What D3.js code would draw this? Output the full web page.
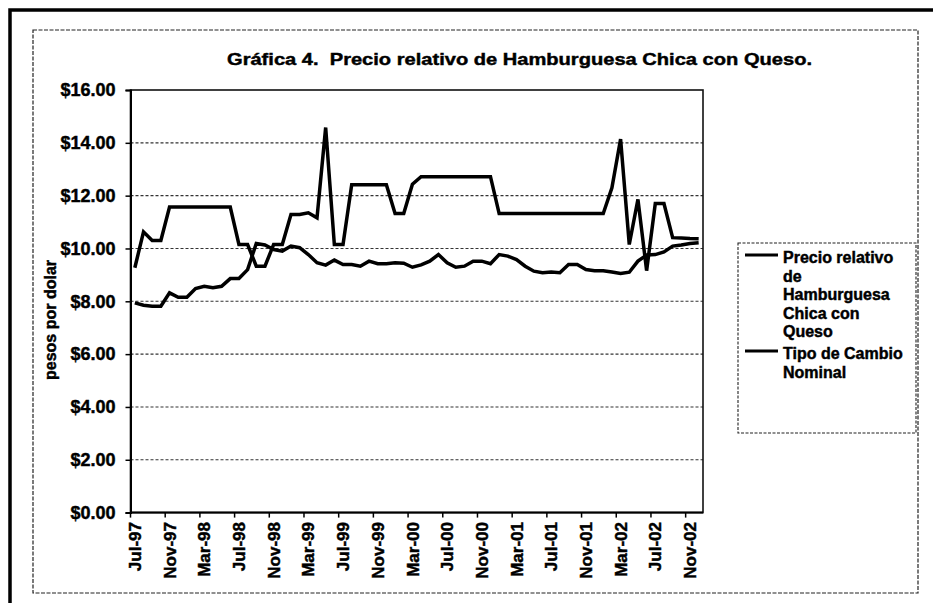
<!DOCTYPE html>
<html>
<head>
<meta charset="utf-8">
<script src="https://cdn.jsdelivr.net/npm/d3@7"></script>
<style>
  body { margin: 0; background: #fff; }
  svg { font-family: "Liberation Sans", Arial, sans-serif; font-weight: bold; }
  svg text { stroke: #000; stroke-width: 0.45px; white-space: pre; }
</style>
</head>
<body>
<svg id="chart" width="933" height="603"></svg>
<script>
// monthly categories, Jul-97 .. Dec-02
const months = d3.timeMonths(new Date(1997, 6, 1), new Date(2003, 0, 1));

const tickLabels = ["Jul-97", "Nov-97", "Mar-98", "Jul-98", "Nov-98", "Mar-99", "Jul-99",
    "Nov-99", "Mar-00", "Jul-00", "Nov-00", "Mar-01", "Jul-01", "Nov-01", "Mar-02",
    "Jul-02", "Nov-02"];

const yTicks = [0, 2, 4, 6, 8, 10, 12, 14, 16];

// Precio relativo de Hamburguesa Chica con Queso
const precioRelativo = [
    9.27, 10.63, 10.30, 10.30, 11.57, 11.57, 11.57, 11.57, 11.57, 11.57, 11.57, 11.57,
    10.15, 10.15, 9.33, 9.33, 10.15, 10.15, 11.29, 11.29, 11.35, 11.16, 14.58, 10.15,
    10.15, 12.41, 12.41, 12.41, 12.41, 12.41, 11.32, 11.32, 12.43, 12.72, 12.72, 12.72,
    12.72, 12.72, 12.72, 12.72, 12.72, 12.72, 11.32, 11.32, 11.32, 11.32, 11.32, 11.32,
    11.32, 11.32, 11.32, 11.32, 11.32, 11.32, 11.32, 12.30, 14.14, 10.15, 11.86, 9.16,
    11.70, 11.70, 10.41, 10.40, 10.38, 10.37
];

// Tipo de Cambio Nominal
const tipoCambio = [
    7.94, 7.85, 7.81, 7.81, 8.32, 8.15, 8.15, 8.48, 8.57, 8.51, 8.57, 8.86,
    8.86, 9.20, 10.19, 10.13, 9.96, 9.90, 10.09, 10.03, 9.77, 9.46, 9.37, 9.56,
    9.39, 9.39, 9.33, 9.52, 9.42, 9.42, 9.46, 9.44, 9.29, 9.38, 9.52, 9.77,
    9.46, 9.29, 9.33, 9.52, 9.52, 9.42, 9.77, 9.71, 9.58, 9.33, 9.14, 9.08,
    9.11, 9.08, 9.39, 9.39, 9.20, 9.16, 9.16, 9.11, 9.05, 9.10, 9.52, 9.75,
    9.77, 9.87, 10.09, 10.13, 10.19, 10.22
];

const legendLines = [
    ["Precio relativo", "de", "Hamburguesa", "Chica con", "Queso"],
    ["Tipo de Cambio", "Nominal"]
];

const svg = d3.select("#chart");

const plot = { left: 130.5, right: 703, top: 90, bottom: 512.6 };

// outer frame and chart area
svg.append("rect")
    .attr("x", 10).attr("y", 10)
    .attr("width", 950).attr("height", 640)
    .attr("fill", "none").attr("stroke", "#000").attr("stroke-width", 3.5);

svg.append("rect")
    .attr("x", 33).attr("y", 30)
    .attr("width", 885).attr("height", 563)
    .attr("fill", "none").attr("stroke", "#222")
    .attr("stroke-width", 1.2).attr("stroke-dasharray", "4,1.5");

const x = d3.scaleBand()
    .domain(months.map((d, i) => i))
    .range([plot.left, plot.right]);

const y = d3.scaleLinear()
    .domain([0, 16])
    .range([plot.bottom, plot.top]);

// gridlines
svg.append("g")
    .selectAll("line")
    .data(yTicks.filter(d => d > 0 && d < 16))
    .join("line")
    .attr("x1", plot.left).attr("x2", plot.right)
    .attr("y1", d => y(d)).attr("y2", d => y(d))
    .attr("stroke", "#333").attr("stroke-width", 1.1)
    .attr("stroke-dasharray", "3,2");

// plot border
svg.append("rect")
    .attr("x", plot.left).attr("y", plot.top)
    .attr("width", plot.right - plot.left).attr("height", plot.bottom - plot.top)
    .attr("fill", "none").attr("stroke", "#111").attr("stroke-width", 1.6);

// y axis
const yAxis = svg.append("g")
    .attr("transform", `translate(${plot.left},0)`)
    .call(d3.axisLeft(y).tickValues(yTicks)
        .tickFormat(d => "$" + d.toFixed(2))
        .tickSize(5).tickPadding(10));
yAxis.select(".domain").attr("stroke", "#000").attr("stroke-width", 2);
yAxis.selectAll(".tick line").attr("stroke", "#000").attr("stroke-width", 1.5);
yAxis.selectAll(".tick text")
    .attr("font-size", 18).attr("font-weight", "bold")
    .attr("font-family", "Liberation Sans, Arial, sans-serif")
    .attr("fill", "#000");

// x axis: labels every 4 months, ticks between categories
const tickIdx = d3.range(0, months.length, 4);

svg.append("line")
    .attr("x1", plot.left).attr("x2", plot.right)
    .attr("y1", plot.bottom).attr("y2", plot.bottom)
    .attr("stroke", "#000").attr("stroke-width", 2);

svg.append("g")
    .selectAll("line")
    .data(tickIdx)
    .join("line")
    .attr("x1", d => x(d)).attr("x2", d => x(d))
    .attr("y1", plot.bottom).attr("y2", plot.bottom + 5)
    .attr("stroke", "#000").attr("stroke-width", 1.5);

svg.append("g")
    .selectAll("text")
    .data(tickIdx)
    .join("text")
    .attr("transform", d => `translate(${x(d) + x.bandwidth() / 2},522) rotate(-90)`)
    .attr("text-anchor", "end")
    .attr("dy", "0.36em")
    .attr("font-size", 17)
    .text((d, i) => tickLabels[i]);

// series lines
const line = d3.line()
    .x((d, i) => x(i) + x.bandwidth() / 2)
    .y(d => y(d));

[precioRelativo, tipoCambio].forEach(series => {
    svg.append("path")
        .datum(series)
        .attr("d", line)
        .attr("fill", "none")
        .attr("stroke", "#000")
        .attr("stroke-width", 3.5)
        .attr("stroke-linejoin", "miter");
});

// title
svg.append("text")
    .attr("x", 519.5).attr("y", 65)
    .attr("text-anchor", "middle")
    .attr("font-size", 17)
    .attr("textLength", 585)
    .attr("lengthAdjust", "spacingAndGlyphs")
    .text("Gráfica 4.  Precio relativo de Hamburguesa Chica con Queso.");

// y axis title
svg.append("text")
    .attr("transform", "translate(50,320) rotate(-90)")
    .attr("text-anchor", "middle")
    .attr("dy", "0.35em")
    .attr("font-size", 16)
    .text("pesos por dolar");

// legend
const legend = svg.append("g");
legend.append("rect")
    .attr("x", 738).attr("y", 243)
    .attr("width", 178).attr("height", 190)
    .attr("fill", "#fff").attr("stroke", "#222")
    .attr("stroke-width", 1.1).attr("stroke-dasharray", "3,1.5");

const entryBase = [263, 359];
legendLines.forEach((lines, k) => {
    legend.append("line")
        .attr("x1", 745).attr("x2", 778)
        .attr("y1", entryBase[k] - 8).attr("y2", entryBase[k] - 8)
        .attr("stroke", "#000").attr("stroke-width", 3);
    legend.append("g")
        .selectAll("text")
        .data(lines)
        .join("text")
        .attr("x", 783)
        .attr("y", (d, i) => entryBase[k] + i * 18.5)
        .attr("font-size", 16)
        .text(d => d);
});
</script>
</body>
</html>
